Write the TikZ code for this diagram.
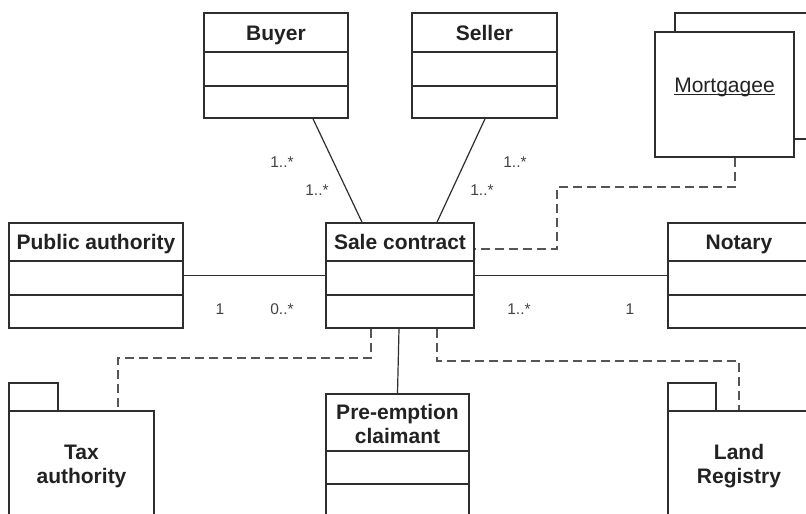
\documentclass[tikz,border=0pt]{standalone}
\usepackage{fontspec}
\setmainfont{Liberation Sans}
\usetikzlibrary{calc}
\definecolor{linec}{HTML}{2E2E2E}
\definecolor{textc}{HTML}{222222}
\definecolor{depc}{HTML}{555555}
\tikzset{
  cls/.style={draw=linec, line width=1.6pt, rectangle, inner sep=0pt, fill=white},
  rowline/.style={draw=linec, line width=1.6pt},
  hdr/.style={font=\fontsize{21}{24}\selectfont\bfseries, text=textc, align=center, inner sep=0pt},
  mult/.style={font=\fontsize{15.5}{18}\selectfont, text=textc!85, inner sep=0pt},
  assoc/.style={draw=linec, line width=1.2pt},
  dep/.style={draw=depc, line width=1.3pt, dash pattern=on 9pt off 5pt},
}
\begin{document}
\begin{tikzpicture}[x=1pt,y=-1pt]
\useasboundingbox (0,0) rectangle (806,514);
\clip (0,0) rectangle (806,514);
\fill[white] (0,0) rectangle (806,514);

% ---------- Buyer ----------
\node[cls, minimum width=144pt, minimum height=105pt] (buyer) at (276,65.5) {};
\node[hdr, anchor=base] (buyerT) at (276,40) {Buyer};
\draw[rowline] (buyer.west |- 0,52) -- (buyer.east |- 0,52);
\draw[rowline] (buyer.west |- 0,86) -- (buyer.east |- 0,86);

% ---------- Seller ----------
\node[cls, minimum width=145pt, minimum height=105pt] (seller) at (484.5,65.5) {};
\node[hdr, anchor=base] (sellerT) at (484.5,40) {Seller};
\draw[rowline] (seller.west |- 0,52) -- (seller.east |- 0,52);
\draw[rowline] (seller.west |- 0,86) -- (seller.east |- 0,86);

% ---------- Mortgagee (multi-object) ----------
\node[cls, minimum width=139pt, minimum height=126pt] (mortB) at (744.5,76) {};
\node[cls, minimum width=139pt, minimum height=125pt] (mortF) at (724.5,94.5) {};
\node[font=\fontsize{21}{24}\selectfont, text=textc, inner sep=0pt, anchor=base] (mortT) at (724.5,92) {Mortgagee};
\draw[draw=textc, line width=1.2pt] ([yshift=-2.2pt]mortT.base west) -- ([yshift=-2.2pt]mortT.base east);

% ---------- Public authority ----------
\node[cls, minimum width=174pt, minimum height=105pt] (pub) at (96,275.5) {};
\node[hdr, anchor=base] (pubT) at (96,249.5) {Public authority};
\draw[rowline] (pub.west |- 0,261) -- (pub.east |- 0,261);
\draw[rowline] (pub.west |- 0,295) -- (pub.east |- 0,295);

% ---------- Sale contract ----------
\node[cls, minimum width=148pt, minimum height=105pt] (sale) at (400,275.5) {};
\node[hdr, anchor=base] (saleT) at (400,249.5) {Sale contract};
\draw[rowline] (sale.west |- 0,261) -- (sale.east |- 0,261);
\draw[rowline] (sale.west |- 0,295) -- (sale.east |- 0,295);

% ---------- Notary ----------
\node[cls, minimum width=142pt, minimum height=105pt] (notary) at (739,275.5) {};
\node[hdr, anchor=base] (notaryT) at (739,249.5) {Notary};
\draw[rowline] (notary.west |- 0,261) -- (notary.east |- 0,261);
\draw[rowline] (notary.west |- 0,295) -- (notary.east |- 0,295);

% ---------- Pre-emption claimant ----------
\node[cls, minimum width=143pt, minimum height=124pt] (pre) at (397.5,456) {};
\node[hdr] (preT) at (397.5,424) {Pre-emption\\claimant};
\draw[rowline] (pre.west |- 0,451) -- (pre.east |- 0,451);
\draw[rowline] (pre.west |- 0,484) -- (pre.east |- 0,484);

% ---------- Tax authority (package) ----------
\node[cls, minimum width=49pt, minimum height=28pt] (taxTab) at (33.5,397) {};
\node[cls, minimum width=145pt, minimum height=129pt] (tax) at (81.5,475.5) {};
\node[hdr] (taxT) at (81.5,466) {Tax\\authority};

% ---------- Land Registry (package) ----------
\node[cls, minimum width=48pt, minimum height=28pt] (landTab) at (692,397) {};
\node[cls, minimum width=144pt, minimum height=129pt] (land) at (740,475.5) {};
\node[hdr] (landT) at (739,466) {Land\\Registry};

% ---------- Associations ----------
\draw[assoc] ([xshift=37pt]buyer.south) -- ([xshift=-38pt]sale.north);
\draw[assoc] ([xshift=0.5pt]seller.south) -- ([xshift=37pt]sale.north);
\draw[assoc] (pub.east) -- (sale.west);
\draw[assoc] (sale.east) -- (notary.west);
\draw[assoc] ([xshift=-1pt]sale.south) -- (pre.north);

% ---------- Dependencies ----------
\coordinate (m1) at (557,187);
\draw[dep] ([xshift=10.5pt]mortF.south) |- (m1) |- (sale.east |- 0,249);
\coordinate (t1) at (118,358);
\draw[dep] ([xshift=-29pt]sale.south) |- (t1) -- (t1 |- tax.north);
\coordinate (l1) at (739,361);
\draw[dep] ([xshift=37pt]sale.south) |- (l1) -- (l1 |- land.north);

% ---------- Multiplicities ----------
\node[mult] (mb1) at (282,162) {1..*};
\node[mult] (mb2) at (317,190) {1..*};
\node[mult] (ms1) at (515,162) {1..*};
\node[mult] (ms2) at (482,190) {1..*};
\node[mult] (mp1) at (220,309) {1};
\node[mult] (mp2) at (282,309) {0..*};
\node[mult] (mn1) at (519,309) {1..*};
\node[mult] (mn2) at (630,309) {1};
\end{tikzpicture}
\end{document}
